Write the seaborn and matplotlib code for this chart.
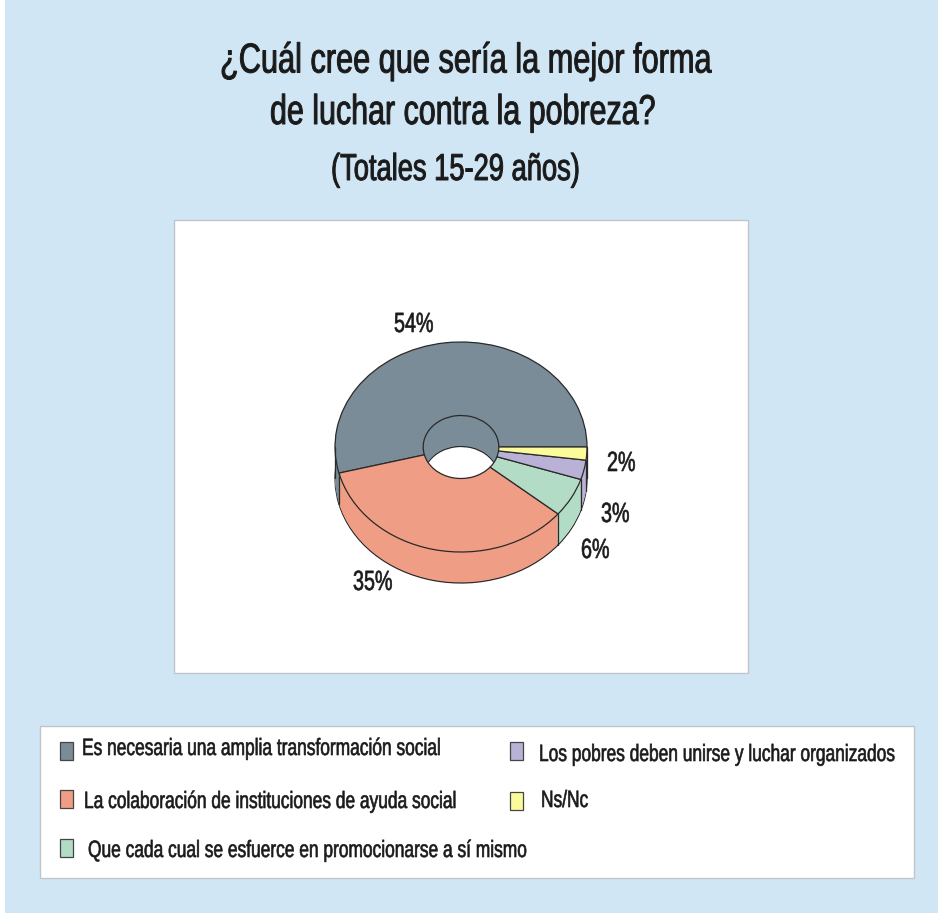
"""Donut chart on poverty opinions, 15-29 years."""
import matplotlib

matplotlib.use("Agg")
import matplotlib.pyplot as plt
import numpy as np
import seaborn as sns
from matplotlib.patches import Rectangle
from matplotlib.patheffects import AbstractPathEffect
from matplotlib.text import Text
from matplotlib.transforms import Affine2D, Bbox

categories = [
    "Es necesaria una amplia transformación social",
    "La colaboración de instituciones de ayuda social",
    "Que cada cual se esfuerce en promocionarse a sí mismo",
    "Los pobres deben unirse y luchar organizados",
    "Ns/Nc",
]
shares = [54, 35, 6, 3, 2]
slice_colors = ["#7A8C97", "#EF9D84", "#B3DCC6", "#BAB1D6", "#FBFB9B"]

title_lines = ["¿Cuál cree que sería la mejor forma", "de luchar contra la pobreza?"]
subtitle = "(Totales 15-29 años)"

W, H = 944, 913
RX, RY = 126, 105
CX, CY = 461, 447
DEPTH = 31 / RY
HOLE = 0.30
EDGE = "#2a2a2a"
BOX_EDGE = "#BFC5CA"
INK = "#1a1a1a"

sns.set_theme(style="white")
plt.rcParams["font.family"] = ["Liberation Sans"]


class Squeeze(AbstractPathEffect):
    """Draw text narrower, the source uses a condensed face we do not have."""

    def __init__(self, factor, stroke):
        super().__init__()
        self.factor = factor
        self.stroke = stroke

    def draw_path(self, renderer, gc, tpath, affine, rgbFace=None):
        gc0 = renderer.new_gc()
        gc0.copy_properties(gc)
        gc0.set_linewidth(self.stroke)
        gc0.set_foreground(rgbFace)
        renderer.draw_path(gc0, tpath, Affine2D().scale(self.factor, 1) + affine, rgbFace)
        gc0.restore()


class NarrowText(Text):
    """Text whose reported extent follows the squeezed drawing."""

    factor = 0.735

    def get_window_extent(self, renderer=None, dpi=None):
        box = super().get_window_extent(renderer, dpi)
        return Bbox.from_extents(box.x0, box.y0, box.x0 + box.width * self.factor, box.y1)


def add_label(ax, x, y, text, size, factor=0.735, stroke=0.45):
    label = NarrowText(x, y, text, ha="left", va="center", fontsize=size, color=INK)
    label.factor = factor
    ax.add_artist(label)
    label.set_path_effects([Squeeze(factor, stroke)])
    return label


fig = plt.figure(figsize=(W / 100, H / 100), dpi=100, facecolor="white")

# pixel canvas for panels and text
bg = fig.add_axes([0, 0, 1, 1])
bg.set_xlim(0, W)
bg.set_ylim(H, 0)
bg.axis("off")
bg.add_patch(Rectangle((5, 0), 933, H, fc="#D1E6F5", ec="none"))
bg.add_patch(Rectangle((174, 220), 574, 453, fc="white", ec=BOX_EDGE, lw=1))
bg.add_patch(Rectangle((40, 726), 874, 152, fc="white", ec=BOX_EDGE, lw=1))

add_label(bg, 220, 61, title_lines[0], 30, 0.737, stroke=0.7)
add_label(bg, 270, 113, title_lines[1], 30, 0.730, stroke=0.7)
add_label(bg, 331, 170, subtitle, 27, 0.728, stroke=0.7)

# pie axes stretched so the circle becomes the tilted ellipse
x_span, y_top, y_bot = 1.2, 1.2, 1.6
ax = fig.add_axes([
    (CX - x_span * RX) / W,
    1 - (CY + y_bot * RY) / H,
    2 * x_span * RX / W,
    (y_top + y_bot) * RY / H,
])

# stacked copies give the thickness, lowest first; only the lowest keeps outlines
offsets = np.linspace(DEPTH, 0, 32)
for i, off in enumerate(offsets):
    # back wall of the hole stays the colour of the first slice
    ax.pie([1], colors=slice_colors[:1], center=(0, -off), radius=HOLE + 0.012,
           wedgeprops={"width": 0.012, "linewidth": 0})
    outlined = i == 0 or i == len(offsets) - 1
    ax.pie(shares, colors=slice_colors, startangle=0, center=(0, -off), radius=1,
           wedgeprops={"width": 1 - HOLE, "linewidth": 0.9 if outlined else 0, "edgecolor": EDGE})

# vertical edges at slice boundaries on the front of the rim
for ang in np.cumsum(shares) * 3.6:
    a = np.radians(ang)
    if np.sin(a) < 0 and ang < 360:
        ax.plot([np.cos(a)] * 2, [np.sin(a), np.sin(a) - DEPTH], color=EDGE, lw=0.9)
for side in (-1, 1):
    ax.plot([side, side], [0, -DEPTH], color=EDGE, lw=0.9)

ax.set_aspect("auto")
ax.set_xlim(-x_span, x_span)
ax.set_ylim(-y_bot, y_top)
ax.axis("off")

# percentage labels
label_pos = [(394, 325), (353, 583), (581, 551), (601, 515), (607, 464)]
for share, (x, y) in zip(shares, label_pos):
    add_label(bg, x, y, f"{share}%", 20, 0.71)

# legend, placed by hand because the rows are uneven
swatches = [(60, 742), (60, 790), (60, 839), (510, 742), (510, 792)]
label_xy = [(82, 749), (84, 802), (88, 851), (539, 755), (541, 801)]
for name, color, (sx, sy), (tx, ty) in zip(categories, slice_colors, swatches, label_xy):
    bg.add_patch(Rectangle((sx, sy), 13, 18, fc=color, ec="#444444", lw=0.9))
    add_label(bg, tx, ty, name, 17)

fig.savefig("out.png", dpi=100)
plt.close(fig)
